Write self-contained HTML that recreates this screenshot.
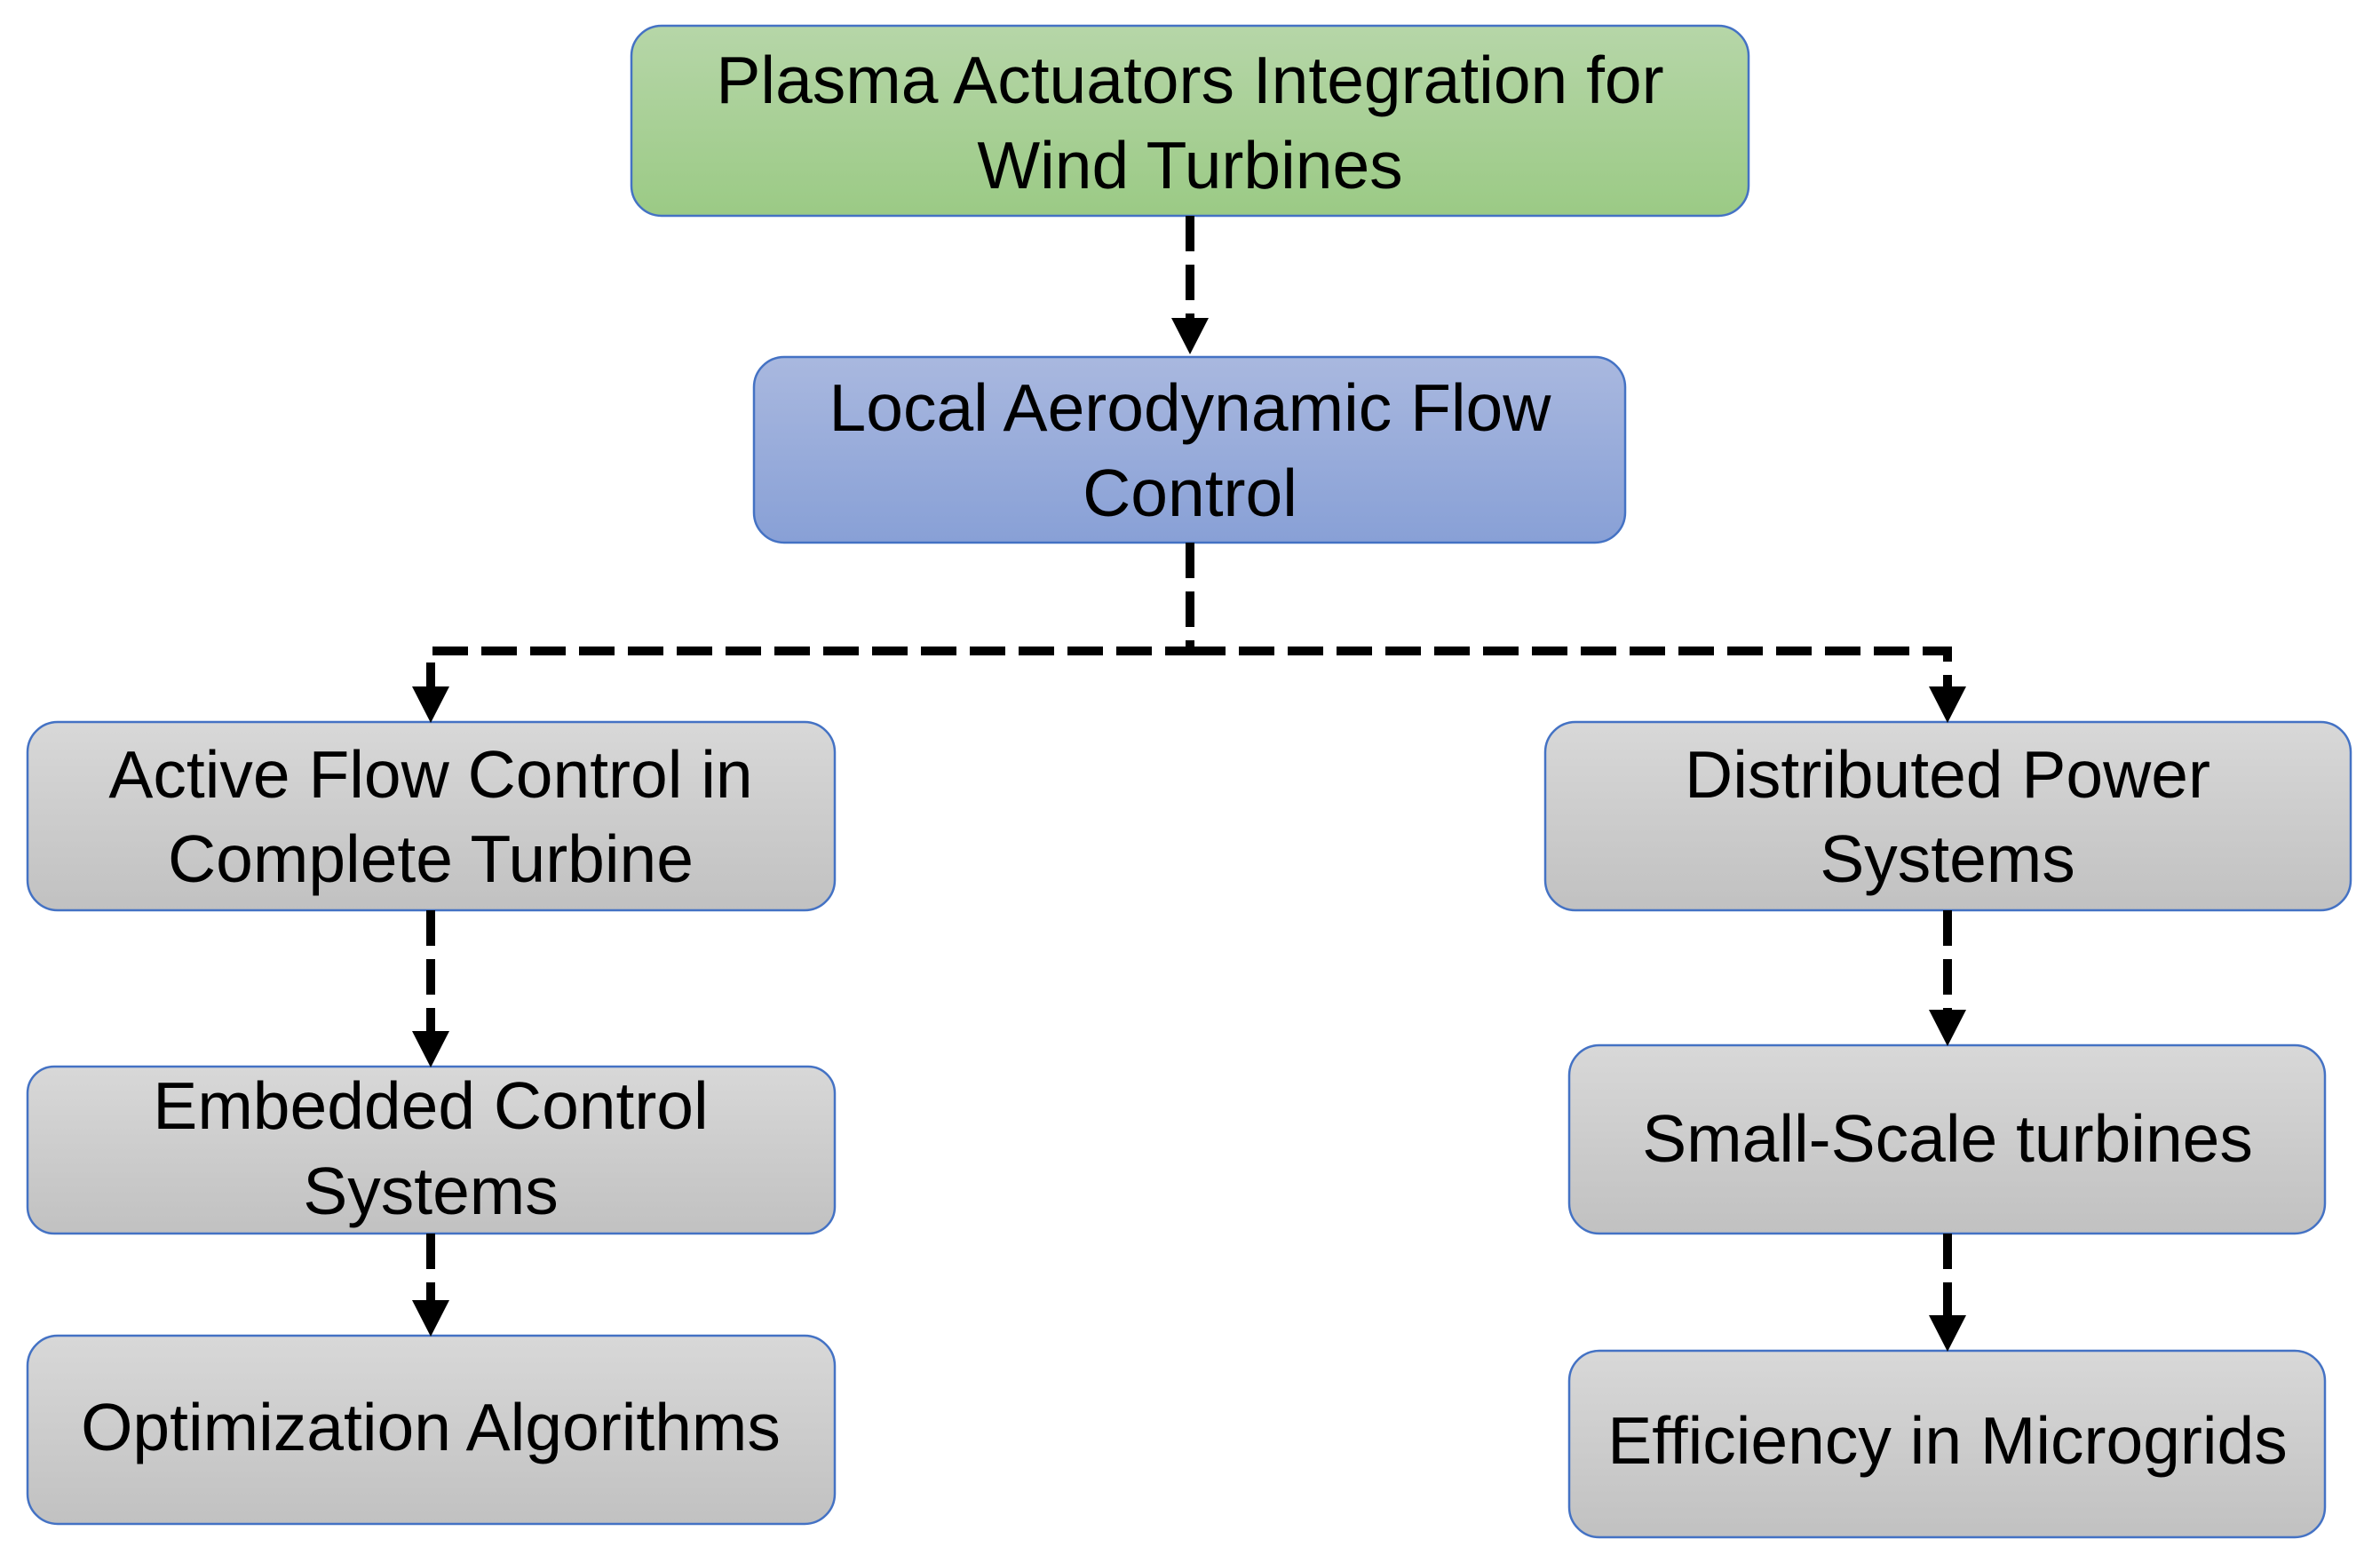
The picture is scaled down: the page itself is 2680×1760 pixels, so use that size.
<!DOCTYPE html>
<html><head><meta charset="utf-8"><style>
html,body{margin:0;padding:0;background:#fff}
svg{display:block}
text{font-family:"Liberation Sans",sans-serif;font-size:75px;fill:#000;text-anchor:middle;dominant-baseline:central}
</style></head><body>
<svg width="2680" height="1760" viewBox="0 0 2680 1760" xmlns="http://www.w3.org/2000/svg">
<defs>
<linearGradient id="g" x1="0" y1="0" x2="0" y2="1"><stop offset="0" stop-color="#b6d6a8"/><stop offset="1" stop-color="#9bca85"/></linearGradient>
<linearGradient id="b" x1="0" y1="0" x2="0" y2="1"><stop offset="0" stop-color="#a9b8df"/><stop offset="1" stop-color="#88a0d6"/></linearGradient>
<linearGradient id="s" x1="0" y1="0" x2="0" y2="1"><stop offset="0" stop-color="#d8d8d8"/><stop offset="1" stop-color="#c1c1c1"/></linearGradient>
</defs>
<g stroke="#4472c4" stroke-width="2.5">
<rect x="711" y="29" width="1258" height="214" rx="34" fill="url(#g)"/>
<rect x="849" y="402" width="981" height="209" rx="34" fill="url(#b)"/>
<rect x="31" y="813" width="909" height="212" rx="34" fill="url(#s)"/>
<rect x="31" y="1201" width="909" height="188" rx="30" fill="url(#s)"/>
<rect x="31" y="1504" width="909" height="212" rx="34" fill="url(#s)"/>
<rect x="1740" y="813" width="907" height="212" rx="34" fill="url(#s)"/>
<rect x="1767" y="1177" width="851" height="212" rx="34" fill="url(#s)"/>
<rect x="1767" y="1521" width="851" height="210" rx="34" fill="url(#s)"/>
</g>
<g stroke="#000" stroke-width="10" fill="none" stroke-dasharray="40 15">
<line x1="1340" y1="243" x2="1340" y2="360"/>
<polyline points="1340,611 1340,733 485,733 485,775"/>
<polyline points="1340,733 2193,733 2193,775"/>
<line x1="485" y1="1025" x2="485" y2="1163"/>
<line x1="485" y1="1389" x2="485" y2="1466"/>
<line x1="2193" y1="1025" x2="2193" y2="1139"/>
<line x1="2193" y1="1389" x2="2193" y2="1483"/>
</g>
<g fill="#000">
<path d="M1319,358 L1361,358 L1340,399 Z"/>
<path d="M464,773 L506,773 L485,814 Z"/>
<path d="M2172,773 L2214,773 L2193,814 Z"/>
<path d="M464,1161 L506,1161 L485,1202 Z"/>
<path d="M464,1464 L506,1464 L485,1505 Z"/>
<path d="M2172,1137 L2214,1137 L2193,1178 Z"/>
<path d="M2172,1481 L2214,1481 L2193,1522 Z"/>
</g>
<text x="1340" y="90">Plasma Actuators Integration for</text>
<text x="1340" y="186">Wind Turbines</text>
<text x="1340" y="459">Local Aerodynamic Flow</text>
<text x="1340" y="555">Control</text>
<text x="485" y="872">Active Flow Control in</text>
<text x="485" y="967">Complete Turbine</text>
<text x="485" y="1245">Embedded Control</text>
<text x="485" y="1341">Systems</text>
<text x="485" y="1607">Optimization Algorithms</text>
<text x="2193" y="872">Distributed Power</text>
<text x="2193" y="967">Systems</text>
<text x="2193" y="1282">Small-Scale turbines</text>
<text x="2193" y="1622">Efficiency in Microgrids</text>
</svg>
</body></html>
